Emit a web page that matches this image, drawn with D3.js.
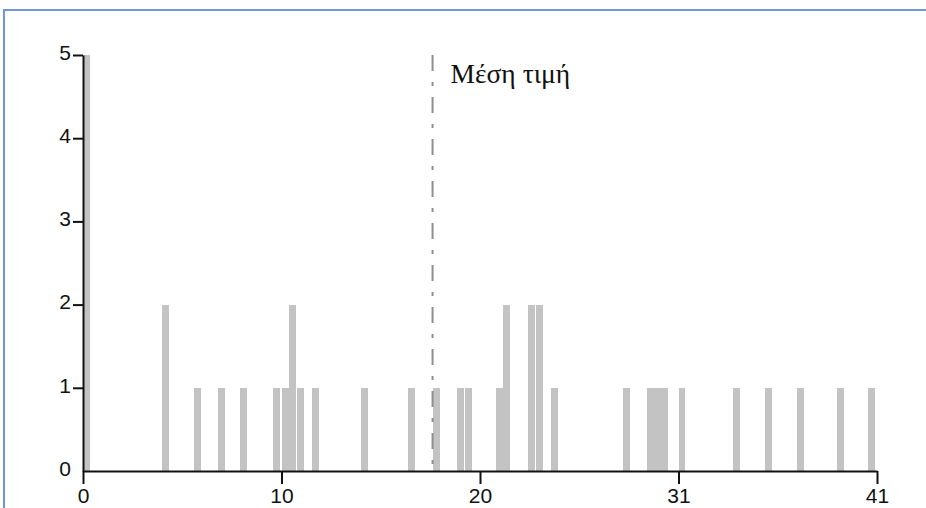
<!DOCTYPE html>
<html>
<head>
<meta charset="utf-8">
<script src="https://cdn.jsdelivr.net/npm/d3@7"></script>
<style>
  html, body { margin: 0; padding: 0; background: #ffffff; }
  svg { display: block; }
</style>
</head>
<body>
<svg id="chart" width="926" height="508"></svg>
<script>
// Observed values (bar centres) and how many times each occurs
const values = [0.19, 4.25, 5.89, 7.15, 8.31, 9.98, 10.45, 10.84, 11.22, 12.00,
                14.54, 16.96, 18.23, 19.48, 19.89, 21.52, 21.89, 23.17, 23.58, 24.34,
                28.05, 29.30, 29.66, 30.02, 30.93, 33.77, 35.41, 37.04, 39.11, 40.74];
const counts = [5, 2, 1, 1, 1, 1, 1, 2, 1, 1,
                1, 1, 1, 1, 1, 1, 2, 2, 2, 1,
                1, 1, 1, 1, 1, 1, 1, 1, 1, 1];

// Axis ticks: the x range is split in quarters, labels rounded
const xTickValues = [0, 10.25, 20.5, 30.75, 41];
const xTickLabels = ["0", "10", "20", "31", "41"];
const yTickValues = [0, 1, 2, 3, 4, 5];

// Mean value marker
const meanValue = 18.05;
const meanLabel = "Μέση τιμή";

const svg = d3.select("#chart");

// Frame lines along the top and left edge
svg.append("line")
  .attr("x1", 3).attr("x2", 926).attr("y1", 10).attr("y2", 10)
  .attr("stroke", "#6f98d4").attr("stroke-width", 2);
svg.append("line")
  .attr("x1", 4).attr("x2", 4).attr("y1", 9).attr("y2", 508)
  .attr("stroke", "#6f98d4").attr("stroke-width", 2);

const x = d3.scaleLinear().domain([0, 41]).range([83, 877]);
const y = d3.scaleLinear().domain([0, 5]).range([471, 55]);

const barHalf = 0.18;

// Bars
svg.append("g")
  .attr("shape-rendering", "crispEdges")
  .selectAll("rect")
  .data(values.map((v, i) => ({ v, c: counts[i] })))
  .join("rect")
  .attr("x", d => x(d.v - barHalf))
  .attr("width", d => x(d.v + barHalf) - x(d.v - barHalf))
  .attr("y", d => y(d.c))
  .attr("height", d => y(0) - y(d.c))
  .attr("fill", "#c3c3c3");

// Mean line
svg.append("line")
  .attr("x1", x(meanValue)).attr("x2", x(meanValue))
  .attr("y1", y(5)).attr("y2", y(0))
  .attr("stroke", "#8e8e8e").attr("stroke-width", 2)
  .attr("stroke-dasharray", "16,11,4,11");

svg.append("text")
  .attr("x", x(meanValue) + 18)
  .attr("y", 83)
  .attr("font-family", "'Liberation Serif', 'DejaVu Serif', serif")
  .attr("font-size", 27.5)
  .attr("fill", "#111")
  .text(meanLabel);

// Axes
const axisFont = "'Liberation Sans', Arial, sans-serif";

const yAxis = svg.append("g")
  .attr("transform", `translate(${x(0)},0)`)
  .call(d3.axisLeft(y).tickValues(yTickValues).tickFormat(d3.format("d"))
        .tickSize(10).tickSizeOuter(0).tickPadding(2));
yAxis.selectAll(".tick line").attr("stroke", "#111").attr("stroke-width", 2)
  .attr("display", d => d === 0 ? "none" : null);
yAxis.select(".domain").attr("stroke", "#111").attr("stroke-width", 2);
yAxis.selectAll("text").attr("font-family", axisFont).attr("font-size", 21)
  .attr("fill", "#111").attr("dy", "0.2em");

const xAxis = svg.append("g")
  .attr("transform", `translate(0,${y(0)})`)
  .call(d3.axisBottom(x).tickValues(xTickValues)
        .tickFormat((d, i) => xTickLabels[i])
        .tickSize(13).tickSizeOuter(0).tickPadding(4));
xAxis.selectAll(".tick line").attr("stroke", "#111").attr("stroke-width", 2);
xAxis.select(".domain").attr("stroke", "#111").attr("stroke-width", 2);
xAxis.selectAll("text").attr("font-family", axisFont).attr("font-size", 21)
  .attr("fill", "#111");
</script>
</body>
</html>
